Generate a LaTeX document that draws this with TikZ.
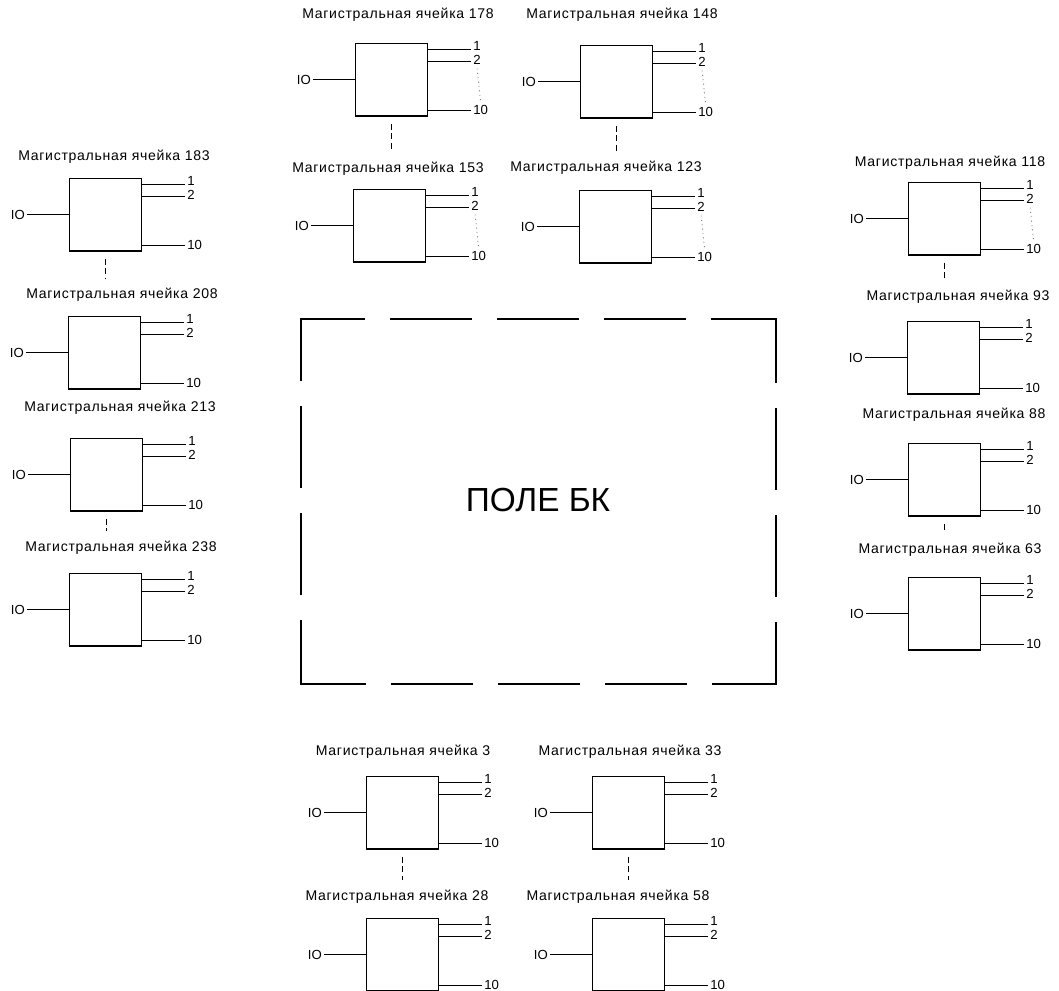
\documentclass[tikz,border=0pt]{standalone}
\usepackage{fontspec}
\setmainfont{Liberation Sans}
\newfontfamily\titlefont{Liberation Sans}[LetterSpace=5]
\usetikzlibrary{positioning,calc}

\begin{document}
\begin{tikzpicture}[x=0.02cm,y=-0.02cm,
    cellbox/.style={draw,line width=0.65pt,minimum width=1.44cm,minimum height=1.45cm,inner sep=0pt,anchor=north west},
    celltitle/.style={font=\titlefont\fontsize{8}{9}\selectfont,inner sep=0pt},
    pinlbl/.style={font=\fontsize{7.5}{8}\selectfont,inner sep=1pt},
    wire/.style={line width=0.55pt},
    dotline/.style={dotted,black!55,line width=0.5pt,shorten <=1pt,shorten >=1pt},
    link/.style={line width=0.6pt,dash pattern=on 3.5pt off 2pt,shorten <=0.14cm,shorten >=0.2cm},
    fieldline/.style={line width=1.1pt,line cap=rect,dash pattern=on 1.6cm off 0.54cm,dash phase=0.34cm}]
  \useasboundingbox (0,0) rectangle (1059,991);
  % trunk cells: number / box x / box y / title x / title y / dots
  \foreach \n/\cx/\cy/\tx/\ty/\dt in {178/355/43/398/15/1, 148/580/45/622/15/1,
      153/353/189/388/169/1, 123/579/190/606/168/1,
      183/69/178/114/157/0, 208/68/316/122/295/0, 213/70/438/120/408/0, 238/69/573/121/548/0,
      118/908/182/950/163/1, 93/907/321/958/297/0, 88/908/443/954/415/0, 63/908/577/950/550/0,
      3/366/776/403/752/0, 33/592/776/630/752/0, 28/366/918/397/897/0, 58/592/918/618/897/0} {
    \node[cellbox] (b\n) at (\cx,\cy) {};
    \node[celltitle] (t\n) at (\tx,\ty) {Магистральная ячейка \n};
    \draw[wire] (b\n.west) -- ++(-0.84cm,0) node[pinlbl,left] (i-\n) {IO};
    \draw[wire] ([yshift=-0.13cm]b\n.north east) -- ++(0.86cm,0) node[pinlbl,right,yshift=0.07cm] (o1-\n) {1};
    \draw[wire] ([yshift=-0.37cm]b\n.north east) -- ++(0.86cm,0) node[pinlbl,right,yshift=0.03cm] (o2-\n) {2};
    \draw[wire] ([yshift=0.13cm]b\n.south east) -- ++(0.86cm,0) node[pinlbl,right] (o10-\n) {10};
    \ifnum\dt=1 \draw[dotline] (o2-\n.south) -- (o10-\n.north); \fi
  }
  % dashed links between cells of one group
  \foreach \a/\b in {178/153, 148/123, 183/208, 213/238, 118/93, 88/63, 3/28, 33/58}
    \draw[link] (b\a.south) -- (b\a.south |- t\b.north);
  % BK field
  \coordinate (fNW) at (301,319);
  \coordinate (fNE) at (776,319);
  \coordinate (fSE) at (776,684);
  \coordinate (fSW) at (301,684);
  \draw[fieldline] (fNW) -- (fNE);
  \draw[fieldline] (fNE) -- (fSE);
  \draw[fieldline] (fSE) -- (fSW);
  \draw[fieldline] (fSW) -- (fNW);
  \node[font=\fontsize{19}{22}\selectfont] (field) at (538,500) {ПОЛЕ БК};
\end{tikzpicture}
\end{document}
